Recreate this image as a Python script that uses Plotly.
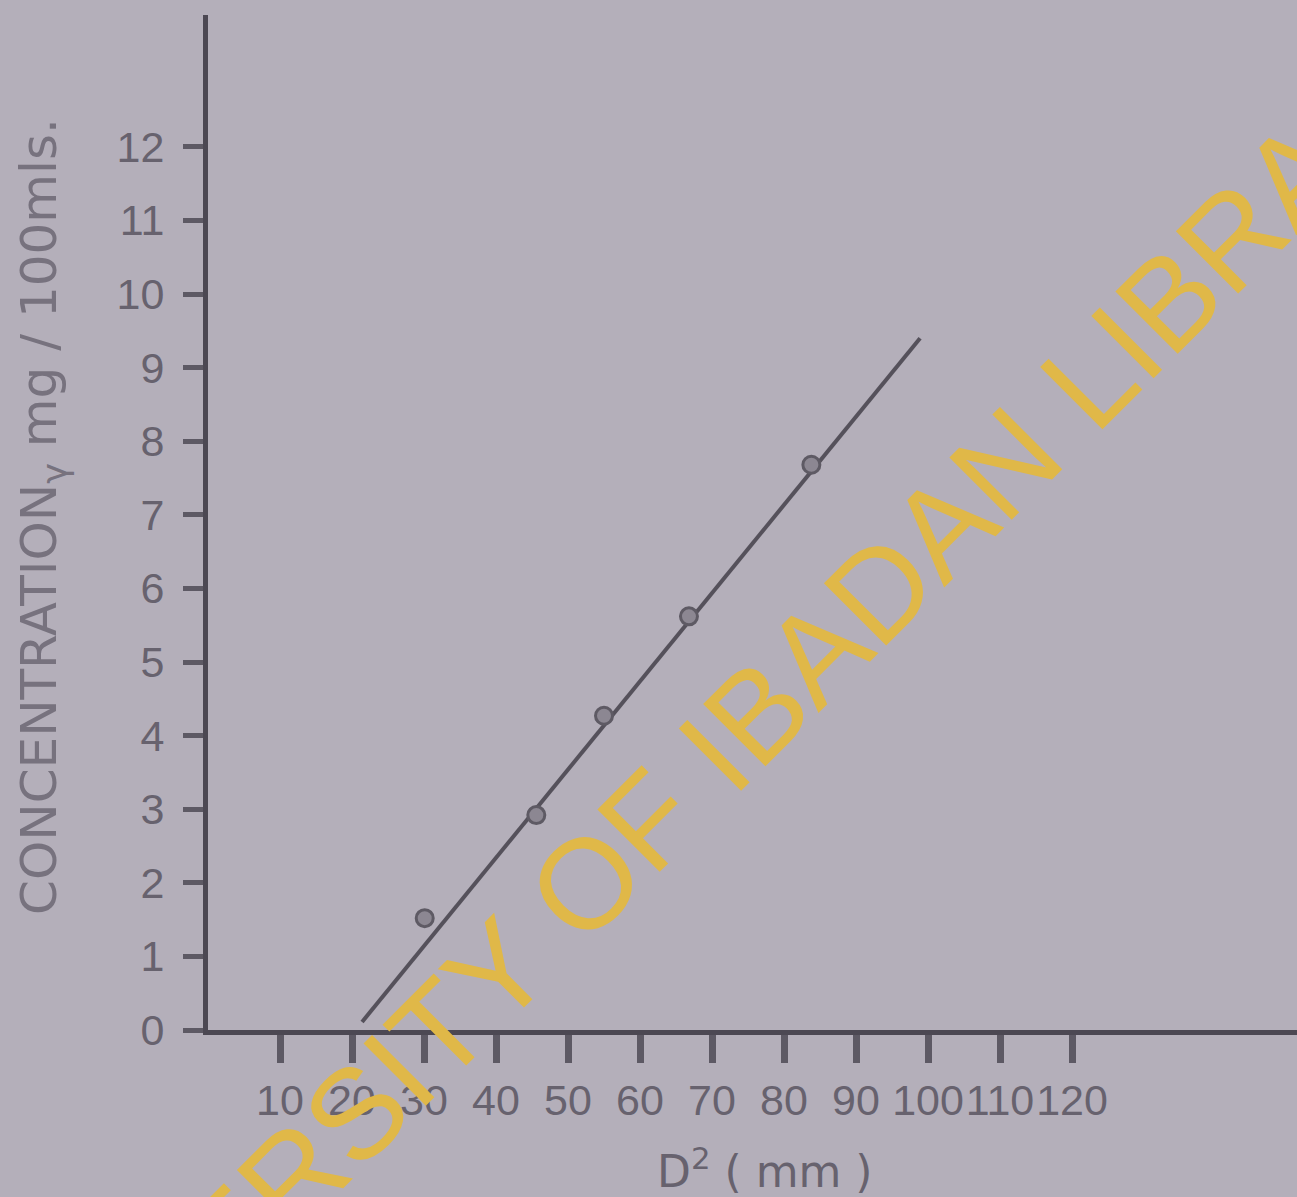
import plotly.graph_objects as go

# data
x_points = [30.1, 45.6, 55.0, 66.8, 83.8]
y_points = [1.52, 2.92, 4.27, 5.62, 7.68]
line_x = [21.4, 98.9]
line_y = [0.11, 9.40]
x_ticks = [10, 20, 30, 40, 50, 60, 70, 80, 90, 100, 110, 120]
y_ticks = [0, 1, 2, 3, 4, 5, 6, 7, 8, 9, 10, 11, 12]

W, H = 1297, 1197
L, R, T, B = 208, 0, 15, 167
plot_w = W - L - R
plot_h = H - T - B

bg = "#b4afba"
ink = "#4c4853"
txt = "#67626e"
font_fam = "DejaVu Sans, sans-serif"
narrow = "Liberation Sans, Arial, sans-serif"

fig = go.Figure()
fig.add_trace(go.Scatter(x=line_x, y=line_y, mode="lines",
                         line=dict(color="#55515b", width=4), showlegend=False))
fig.add_trace(go.Scatter(x=x_points, y=y_points, mode="markers",
                         marker=dict(size=17, color="#8c8792",
                                     line=dict(color="#5e5a64", width=3)),
                         showlegend=False))

fig.update_layout(
    width=W, height=H,
    margin=dict(l=L, r=R, t=T, b=B),
    paper_bgcolor=bg, plot_bgcolor=bg,
    font=dict(family=font_fam, color=txt),
    xaxis=dict(range=[0, plot_w / 7.2], tickvals=x_ticks,
               ticktext=[str(v) for v in x_ticks],
               showgrid=False, zeroline=False, showline=True,
               linecolor=ink, linewidth=5, tickangle=0,
               ticks="outside", ticklen=28, tickwidth=7, tickcolor="#5d5964",
               tickfont=dict(size=43, color=txt, family=narrow)),
    yaxis=dict(range=[0, plot_h / 73.6], tickvals=y_ticks,
               ticktext=[str(v) for v in y_ticks],
               showgrid=False, zeroline=False, showline=True,
               linecolor=ink, linewidth=5,
               ticks="outside", ticklen=20, tickwidth=5, tickcolor="#5d5964",
               ticklabelstandoff=10,
               tickfont=dict(size=43, color=txt, family=narrow)),
)

# axis titles
fig.add_annotation(xref="paper", yref="paper",
                   x=(42 - L) / plot_w, y=(H - B - 517) / plot_h,
                   xanchor="center", yanchor="middle",
                   text="CONCENTRATION<sub>γ</sub> mg / 100mls.",
                   textangle=-90, showarrow=False,
                   font=dict(size=50, color="#77727e", family=font_fam))
fig.add_annotation(xref="paper", yref="paper",
                   x=(765 - L) / plot_w, y=(H - B - 1168) / plot_h,
                   xanchor="center", yanchor="middle",
                   text="D<sup>2</sup> ( mm )", showarrow=False,
                   font=dict(size=44, color=txt, family=font_fam))

# watermark
fig.add_annotation(xref="paper", yref="paper",
                   x=(716 - L) / plot_w, y=(H - B - 752) / plot_h,
                   xanchor="center", yanchor="middle",
                   text="UNIVERSITY OF IBADAN LIBRARY", textangle=-45,
                   showarrow=False,
                   font=dict(size=128, color="#e0b848",
                             family="Liberation Sans, Arial, sans-serif"))

fig.write_html("out.html", post_script="document.body.style.margin='0';",
               config={"displayModeBar": False})
